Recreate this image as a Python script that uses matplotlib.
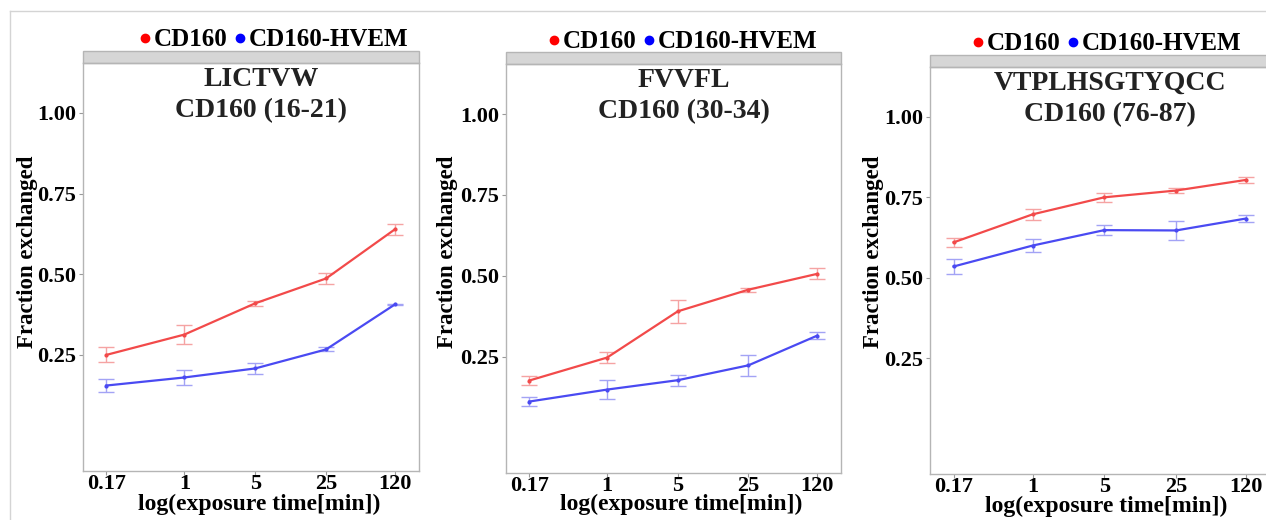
import matplotlib
matplotlib.use("Agg")
import matplotlib.pyplot as plt
from matplotlib.patches import Rectangle
from matplotlib.lines import Line2D

# ---------------- data ----------------
times = [0.17, 1, 5, 25, 120]
time_labels = ["0.17", "1", "5", "25", "120"]

titles = ["LICTVW\nCD160 (16-21)", "FVVFL\nCD160 (30-34)", "VTPLHSGTYQCC\nCD160 (76-87)"]

cd160_p1 = [0.250, 0.313, 0.410, 0.487, 0.640]
cd160_p1_err = [0.023, 0.030, 0.008, 0.017, 0.017]
hvem_p1 = [0.155, 0.180, 0.208, 0.267, 0.407]
hvem_p1_err = [0.020, 0.023, 0.017, 0.006, 0.002]

cd160_p2 = [0.176, 0.247, 0.390, 0.457, 0.506]
cd160_p2_err = [0.015, 0.017, 0.035, 0.006, 0.017]
hvem_p2 = [0.111, 0.148, 0.177, 0.223, 0.315]
hvem_p2_err = [0.013, 0.029, 0.017, 0.032, 0.011]

cd160_p3 = [0.610, 0.697, 0.750, 0.771, 0.804]
cd160_p3_err = [0.013, 0.016, 0.014, 0.007, 0.009]
hvem_p3 = [0.535, 0.600, 0.648, 0.647, 0.684]
hvem_p3_err = [0.023, 0.020, 0.016, 0.029, 0.010]

yticks = [0.25, 0.50, 0.75, 1.00]
ytick_labels = ["0.25", "0.50", "0.75", "1.00"]
series_names = ["CD160", "CD160-HVEM"]

panels = [
    (cd160_p1, cd160_p1_err, hvem_p1, hvem_p1_err),
    (cd160_p2, cd160_p2_err, hvem_p2, hvem_p2_err),
    (cd160_p3, cd160_p3_err, hvem_p3, hvem_p3_err),
]

# ---------------- style ----------------
W, H = 1266, 520
SERIF = ["Liberation Serif", "DejaVu Serif"]
plt.rcParams["font.family"] = SERIF
plt.rcParams["font.weight"] = "bold"

fig = plt.figure(figsize=(W / 100, H / 100), dpi=100)
fig.patch.set_facecolor("white")

# outer faint frame
fig.add_artist(Line2D([10 / W, 1], [1 - 11 / H, 1 - 11 / H], color="#d4d4d4", lw=1))
fig.add_artist(Line2D([10 / W, 10 / W], [0, 1 - 11 / H], color="#d4d4d4", lw=1))

# pixel boxes: left, right, top, bottom
boxes = [(83, 419, 63, 471), (506, 841, 64, 473), (930, 1270, 67, 474)]
ylabel_x = [27, 448, 873]
legend_x = [150, 559, 983]
legend_y = [40, 42, 44]
xlabel_y = [504, 504, 506]

red_line = "#f24a4a"
red_err = "#f5a3a3"
blue_line = "#4a4af2"
blue_err = "#a3a3f5"

for i, ((l, r, t, b), (c, ce, h, he)) in enumerate(zip(boxes, panels)):
    ax = fig.add_axes([l / W, 1 - b / H, (r - l) / W, (b - t) / H])
    ax.set_xscale("log")
    ax.set_xlim(0.1, 206)
    ax.set_ylim(-0.11, 1.155)
    ax.minorticks_off()

    for vals, errs, lc, ec in [(c, ce, red_line, red_err), (h, he, blue_line, blue_err)]:
        ax.errorbar(times, vals, yerr=errs, fmt="none", ecolor=ec, elinewidth=1.0,
                    capsize=6, capthick=1.0, zorder=2)
        ax.plot(times, vals, color=lc, lw=1.6, marker="o", ms=2, zorder=3)

    ax.set_xticks(times)
    ax.set_xticklabels(time_labels)
    ax.set_yticks(yticks)
    ax.set_yticklabels(ytick_labels)
    ax.tick_params(axis="both", length=3, width=0.8, color="#999999",
                   labelsize=16, pad=2)
    ax.tick_params(axis="x", pad=-1)
    for lab in ax.get_xticklabels() + ax.get_yticklabels():
        lab.set_fontweight("bold")
    for sp in ax.spines.values():
        sp.set_color("#b5b5b5")
        sp.set_linewidth(1.0)

    # strip on top
    strip_h = 12 / (b - t)
    ax.add_patch(Rectangle((0, 1), 1, strip_h, transform=ax.transAxes,
                           facecolor="#d6d6d6", edgecolor="#b5b5b5", lw=1.0,
                           clip_on=False))

    # panel titles
    ax.text(0.5 + 10 / (r - l), 1 - 32 / (b - t), titles[i], transform=ax.transAxes,
            ha="center", va="center", fontsize=20, fontweight="bold",
            color="#222222", linespacing=1.35)

    # y label
    fig.text(ylabel_x[i] / W, 1 - 252 / H, "Fraction exchanged", rotation=90,
             ha="center", va="center", fontsize=16.5, fontweight="bold")
    # x label
    cx = (l + min(r, 1266)) / 2 + 8
    fig.text(cx / W, 1 - xlabel_y[i] / H, "log(exposure time[min])", ha="center",
             va="center", fontsize=17, fontweight="bold")

    # legend above each panel
    handles = [Line2D([], [], color="red", marker="o", ls="none", ms=6),
               Line2D([], [], color="blue", marker="o", ls="none", ms=6)]
    fig.legend(handles, series_names, loc="center left",
               bbox_to_anchor=(legend_x[i] / W - 0.008, 1 - legend_y[i] / H),
               ncol=2, frameon=False, handlelength=0.4, handletextpad=0.15,
               columnspacing=0.3, borderpad=0, borderaxespad=0,
               prop={"family": SERIF, "weight": "bold", "size": 18})

fig.savefig("out.png", dpi=100, facecolor="white")
